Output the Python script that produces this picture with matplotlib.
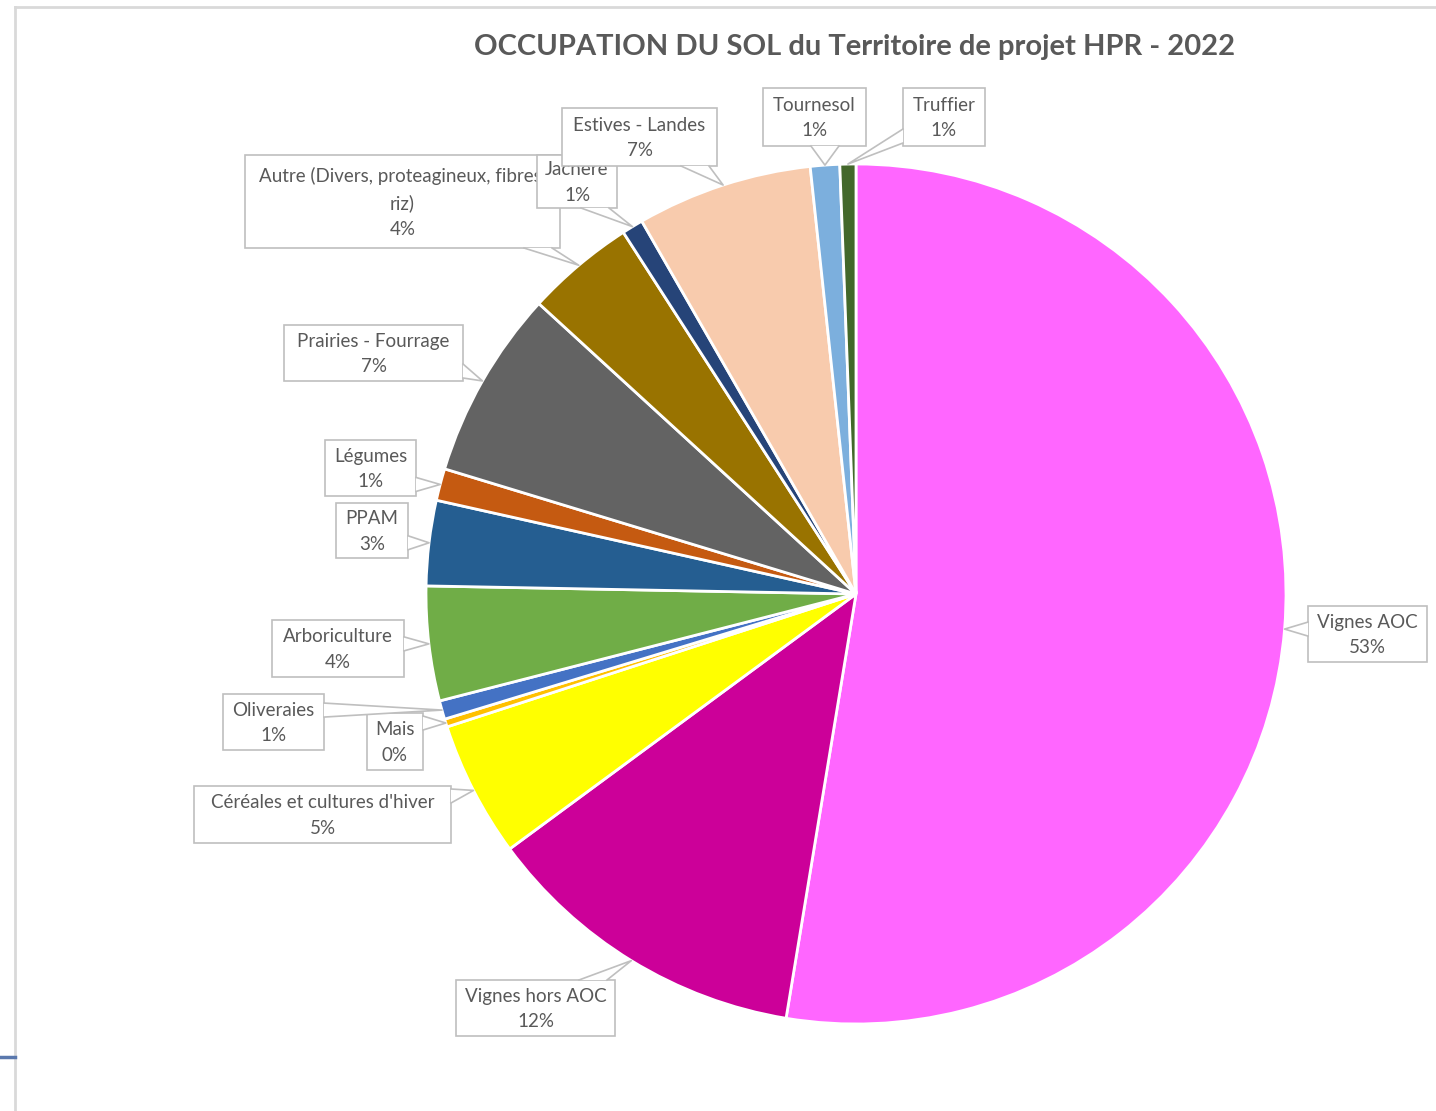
import numpy as np
import matplotlib
matplotlib.use('Agg')
import matplotlib.pyplot as plt
from matplotlib.patches import Rectangle, Polygon

plt.rcParams['font.family'] = ['Lato', 'DejaVu Sans']

W, H = 1436, 1111

title = 'OCCUPATION DU SOL du Territoire de projet HPR - 2022'

categories = ['Vignes AOC', 'Vignes hors AOC', "Céréales et cultures d'hiver",
              'Mais', 'Oliveraies', 'Arboriculture', 'PPAM', 'Légumes',
              'Prairies - Fourrage', 'Autre (Divers, proteagineux, fibres,\nriz)',
              'Jachère', 'Estives - Landes', 'Tournesol', 'Truffier']

# share of the territory, in %
shares = [52.6, 12.3, 5.1, 0.3, 0.7, 4.3, 3.2, 1.2, 7.1, 4.1, 0.8, 6.6, 1.1, 0.6]

colors = ['#FF66FF', '#CC0099', '#FFFF00', '#FFC000', '#4472C4', '#70AD47',
          '#255E91', '#C55A11', '#636363', '#997300', '#264478', '#F8CBAD',
          '#7CAFDD', '#43682B']

# callout boxes: left, top, right, bottom (pixels)
boxes = [(1308, 606, 1427, 662), (456, 980, 615, 1036), (194, 786, 451, 843),
         (367, 713, 423, 770), (223, 694, 324, 750), (272, 620, 404, 677),
         (336, 503, 408, 558), (325, 440, 416, 496), (284, 325, 463, 381),
         (245, 155, 560, 248), (537, 155, 617, 208), (562, 108, 717, 166),
         (763, 88, 866, 146), (903, 88, 985, 146)]

EDGE = '#BFBFBF'
TXT = '#595959'
CX, CY, R = 856, 594, 430


def callout(ax, box, tip, text, z):
    x0, y0, x1, y1 = box
    cx, cy = (x0 + x1) / 2, (y0 + y1) / 2
    tx, ty = tip
    rx, ry = (tx - cx) / ((x1 - x0) / 2), (ty - cy) / ((y1 - y0) / 2)
    if abs(rx) >= abs(ry):
        sx = x1 if rx > 0 else x0
        m = np.clip(ty, y0 + 10, y1 - 10)
        base = [(sx, m - 7), (sx, m + 7)]
    else:
        sy = y1 if ry > 0 else y0
        m = np.clip(tx, x0 + 22, x1 - 22)
        base = [(m - 14, sy), (m + 14, sy)]
    ax.add_patch(Rectangle((x0, y0), x1 - x0, y1 - y0, facecolor='white',
                           edgecolor=EDGE, lw=1.2, zorder=z))
    ax.add_patch(Polygon([base[0], tip, base[1]], closed=True,
                         facecolor='white', edgecolor='none', zorder=z + 0.1))
    ax.plot([base[0][0], tx, base[1][0]], [base[0][1], ty, base[1][1]],
            color=EDGE, lw=1.2, zorder=z + 0.2)
    ax.text(cx, cy + 1, text, ha='center', va='center', fontsize=13.5,
            color=TXT, linespacing=1.62, zorder=z + 0.3)


fig = plt.figure(figsize=(W / 100, H / 100), dpi=100)
ax = fig.add_axes([0, 0, 1, 1])

# y axis runs downward, so counterclockwise in data is clockwise on screen
wedges, _ = ax.pie(shares, colors=colors, startangle=-90, counterclock=True,
                   center=(CX, CY), radius=R,
                   wedgeprops=dict(edgecolor='white', linewidth=2))

total = sum(shares)
for i, (w, name, box) in enumerate(zip(wedges, categories, boxes)):
    mid = np.deg2rad((w.theta1 + w.theta2) / 2)
    tip = (CX + R * np.cos(mid), CY + R * np.sin(mid))
    pct = round(shares[i] / total * 100)
    callout(ax, box, tip, f'{name}\n{pct:.0f}%', 3 + i)

ax.text(855, 47, title, ha='center', va='center', fontsize=21,
        fontweight='bold', color=TXT)

# chart frame
ax.plot([15, 15], [7, H], color='#D9D9D9', lw=2)
ax.plot([15, W], [7, 7], color='#D9D9D9', lw=2)
ax.plot([0, 15], [1057, 1057], color='#5A78AD', lw=2.5)

ax.set_xlim(0, W)
ax.set_ylim(H, 0)
ax.axis('off')

fig.savefig('out.png', dpi=100)
